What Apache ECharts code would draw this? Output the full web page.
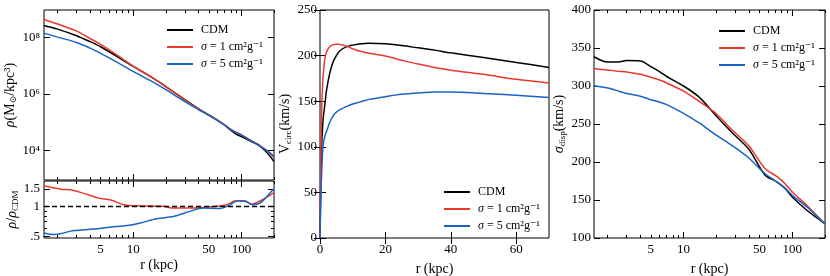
<!DOCTYPE html>
<html>
<head>
<meta charset="utf-8">
<script src="https://cdn.jsdelivr.net/npm/echarts@6/dist/echarts.min.js"></script>
<style>
html,body{margin:0;padding:0;background:#fff;}
#c{width:830px;height:276px;}
</style>
</head>
<body>
<div id="c"></div>
<script>
// ---------------- data ----------------
const seriesNames = ['CDM', 'σ = 1 cm²g⁻¹', 'σ = 5 cm²g⁻¹'];

// density profile (M_sun / kpc^3)
const rhoR   = [1.5, 2, 3, 4, 5, 7, 10, 15, 20, 30, 40, 50, 60, 70, 80, 90, 100, 120, 140, 160, 180, 200];
const rhoCDM = [2.57e8, 1.91e8, 1.12e8, 6.92e7, 4.57e7, 2.14e7, 9.33e6, 3.72e6, 1.82e6, 6.31e5, 3.02e5, 1.82e5, 1.20e5, 7.94e4, 5.25e4, 3.80e4, 3.16e4, 2.24e4, 1.66e4, 1.12e4, 7.08e3, 4.17e3];
const rhoS1  = [4.17e8, 2.88e8, 1.62e8, 8.91e7, 5.50e7, 2.40e7, 9.55e6, 3.72e6, 1.82e6, 6.03e5, 2.95e5, 1.78e5, 1.20e5, 8.13e4, 5.62e4, 4.37e4, 3.63e4, 2.40e4, 1.74e4, 1.23e4, 8.91e3, 5.75e3];
const rhoS5  = [1.38e8, 1.00e8, 6.46e7, 4.07e7, 2.69e7, 1.35e7, 6.17e6, 2.69e6, 1.41e6, 5.37e5, 2.82e5, 1.74e5, 1.15e5, 7.94e4, 5.50e4, 4.27e4, 3.63e4, 2.34e4, 1.70e4, 1.20e4, 8.91e3, 6.31e3];

// density ratio to CDM
const ratioR1 = [1.5, 2.14, 2.64, 3.5, 4.8, 6.2, 8.15, 11.6, 19, 23.5, 41, 59, 72, 89, 107, 123, 146, 195, 200];
const ratioS1 = [1.61, 1.49, 1.47, 1.35, 1.21, 1.16, 1.04, 1.01, 1.0, 0.96, 0.97, 1.0, 1.03, 1.14, 1.14, 1.05, 1.12, 1.35, 1.38];
const ratioR5 = [1.5, 1.86, 2.83, 4.3, 6.2, 8.75, 11.6, 16.5, 23.5, 33.3, 44, 63, 78, 92, 110, 127, 151, 195, 200];
const ratioS5 = [0.54, 0.52, 0.57, 0.59, 0.62, 0.64, 0.68, 0.75, 0.79, 0.89, 0.96, 0.95, 1.03, 1.14, 1.12, 1.04, 1.09, 1.46, 1.48];
const ratioRef = 1;

// circular velocity (km/s)
const vR   = [0, 0.25, 0.5, 0.8, 1, 1.5, 2, 3, 4, 5, 6, 8, 10, 12, 15, 20, 25, 30, 35, 40, 50, 60, 70];
const vCDM = [0, 60, 100, 122, 132, 147, 162, 181, 193, 200, 205, 209.5, 211.5, 212.8, 213.5, 213, 211, 208.5, 206, 203, 198, 192.5, 187];
const vS1  = [0, 85, 140, 168, 180, 197, 204, 210, 212, 212.5, 212.3, 210.5, 207.5, 205, 202.5, 199.5, 195, 190.7, 187, 184, 179.5, 174, 170];
const vS5  = [0, 45, 70, 95, 103, 112, 117, 127, 134, 138, 140.5, 144, 147, 149, 152, 155, 157.5, 159, 160, 160, 158.5, 156.5, 154];

// velocity dispersion (km/s)
const sR   = [1.5, 2, 2.5, 3, 4, 5, 6, 7, 10, 14, 20, 28, 40, 56, 72, 85, 100, 136, 170, 200];
const sCDM = [338.5, 331.5, 331.5, 333.5, 333, 325.5, 319, 312.5, 300, 285, 260.5, 238.5, 216.5, 183, 174, 166, 154, 136.5, 126, 119];
const sS1  = [323, 321, 319.5, 318.5, 315.5, 311.5, 307.8, 304, 293.3, 279.5, 263.5, 242, 221, 191.4, 181, 172, 160.6, 143, 129, 119.5];
const sS5  = [300.3, 297.3, 293.5, 290, 286.5, 282, 279, 275.5, 264, 251, 235.3, 221.5, 205, 184.8, 173.8, 166, 156.3, 140.8, 128, 118];

// ticks
const logXLabels = [5, 10, 50, 100];
const logXMajor  = [10, 100];
const logXMinor  = [2, 3, 4, 5, 6, 7, 8, 9, 20, 30, 40, 50, 60, 70, 80, 90, 200];
const rhoTicks   = [1e4, 1e6, 1e8];
const ratioTicks = [0.5, 1, 1.5];
const ratioTickLabels = ['.5', '1', '1.5'];
const ratioMinor = [0.6, 0.7, 0.8, 0.9];
const vXTicks = [0, 20, 40, 60];
const vYTicks = [0, 50, 100, 150, 200, 250];
const sYTicks = [100, 150, 200, 250, 300, 350, 400];

// ---------------- style ----------------
const FONT = "'Liberation Serif', 'DejaVu Serif', serif";
const COLORS = ['#000000', '#e8392b', '#1764c4'];
const SUP = {4: '⁴', 6: '⁶', 8: '⁸'};

const grids = [
  {left: 44, top: 10, width: 230, height: 170},
  {left: 44, top: 181, width: 230, height: 57},
  {left: 320, top: 10, width: 229, height: 228},
  {left: 594, top: 10, width: 231, height: 228}
].map(g => Object.assign(g, {show: true, borderColor: '#000', borderWidth: 1, backgroundColor: 'transparent', outerBoundsMode: 'none'}));

const nameStyle = {
  fontFamily: FONT, fontSize: 14, color: '#000', lineHeight: 16,
  rich: {
    i: {fontFamily: FONT, fontSize: 14, fontStyle: 'italic', color: '#000', lineHeight: 16},
    s: {fontFamily: FONT, fontSize: 9, color: '#000', lineHeight: 7, verticalAlign: 'bottom'}
  }
};

function mkAxis(o) {
  const a = {
    gridIndex: o.grid, type: o.type, min: o.min, max: o.max, position: o.pos,
    axisLine: {show: false}, splitLine: {show: false},
    axisTick: {show: true, inside: true, length: o.len, customValues: o.ticks, lineStyle: {color: '#000', width: 1}},
    axisLabel: o.labels ? {show: true, customValues: o.labels, formatter: o.fmt, color: '#000', fontFamily: FONT, fontSize: 13, margin: o.margin || 5} : {show: false}
  };
  if (o.name) {
    a.name = o.name; a.nameLocation = 'middle'; a.nameGap = o.nameGap; a.nameTextStyle = nameStyle;
  }
  return a;
}

const logX = {type: 'log', min: 1.5, max: 200};
const xAxes = [];
const yAxes = [];
function logXSet(grid, withLabels) {
  const base = xAxes.length;
  xAxes.push(mkAxis(Object.assign({grid, pos: 'bottom', ticks: logXMajor, len: 6,
    labels: withLabels ? logXLabels : null, fmt: v => String(v), margin: 5,
    name: withLabels ? 'r (kpc)' : null, nameGap: 16}, logX)));
  xAxes.push(mkAxis(Object.assign({grid, pos: 'bottom', ticks: logXMinor, len: 3}, logX)));
  xAxes.push(mkAxis(Object.assign({grid, pos: 'top', ticks: logXMajor, len: 6}, logX)));
  xAxes.push(mkAxis(Object.assign({grid, pos: 'top', ticks: logXMinor, len: 3}, logX)));
  return base;
}
const xRho = logXSet(0, false);
const xRatio = logXSet(1, true);
const xV = xAxes.length;
xAxes.push(mkAxis({grid: 2, type: 'value', min: 0, max: 70, pos: 'bottom', ticks: vXTicks, len: 6, labels: vXTicks, fmt: v => String(v), name: 'r (kpc)', nameGap: 16}));
xAxes.push(mkAxis({grid: 2, type: 'value', min: 0, max: 70, pos: 'top', ticks: vXTicks, len: 6}));
const xS = logXSet(3, true);

// y axes
const yRho = yAxes.length;
yAxes.push(mkAxis({grid: 0, type: 'log', min: 930, max: 9e8, pos: 'left', ticks: rhoTicks, len: 6, labels: rhoTicks,
  fmt: v => '10' + SUP[Math.round(Math.log10(v))], margin: 4, name: '{i|ρ}(M{s|⊙}/kpc³)', nameGap: 24}));
yAxes.push(mkAxis({grid: 0, type: 'log', min: 930, max: 9e8, pos: 'right', ticks: rhoTicks, len: 6}));
const yRatio = yAxes.length;
yAxes.push(mkAxis({grid: 1, type: 'log', min: 0.48, max: 1.8, pos: 'left', ticks: ratioTicks, len: 6, labels: ratioTicks,
  fmt: v => ratioTickLabels[ratioTicks.indexOf(v)], margin: 4, name: '{i|ρ}/{i|ρ}{s|CDM}', nameGap: 24}));
yAxes.push(mkAxis({grid: 1, type: 'log', min: 0.48, max: 1.8, pos: 'left', ticks: ratioMinor, len: 3}));
yAxes.push(mkAxis({grid: 1, type: 'log', min: 0.48, max: 1.8, pos: 'right', ticks: ratioTicks, len: 6}));
yAxes.push(mkAxis({grid: 1, type: 'log', min: 0.48, max: 1.8, pos: 'right', ticks: ratioMinor, len: 3}));
const yV = yAxes.length;
yAxes.push(mkAxis({grid: 2, type: 'value', min: 0, max: 250, pos: 'left', ticks: vYTicks, len: 6, labels: vYTicks, fmt: v => String(v), margin: 3, name: 'V{s|circ}(km/s)', nameGap: 25}));
yAxes.push(mkAxis({grid: 2, type: 'value', min: 0, max: 250, pos: 'right', ticks: vYTicks, len: 6}));
const yS = yAxes.length;
yAxes.push(mkAxis({grid: 3, type: 'value', min: 100, max: 400, pos: 'left', ticks: sYTicks, len: 6, labels: sYTicks, fmt: v => String(v), margin: 3, name: '{i|σ}{s|disp}(km/s)', nameGap: 22}));
yAxes.push(mkAxis({grid: 3, type: 'value', min: 100, max: 400, pos: 'right', ticks: sYTicks, len: 6}));

function pairs(xs, ys) { return xs.map((x, i) => [x, ys[i]]); }
function line(nameIdx, xi, yi, data, extra) {
  return Object.assign({
    type: 'line', name: seriesNames[nameIdx], xAxisIndex: xi, yAxisIndex: yi,
    data: data, showSymbol: false, symbol: 'none', smooth: 0.3, clip: true,
    lineStyle: {color: COLORS[nameIdx], width: 1.5}, itemStyle: {color: COLORS[nameIdx]},
    emphasis: {disabled: true}
  }, extra || {});
}

const series = [
  line(0, xRho, yRho, pairs(rhoR, rhoCDM)),
  line(1, xRho, yRho, pairs(rhoR, rhoS1)),
  line(2, xRho, yRho, pairs(rhoR, rhoS5)),
  line(1, xRatio, yRatio, pairs(ratioR1, ratioS1)),
  line(2, xRatio, yRatio, pairs(ratioR5, ratioS5), {
    markLine: {silent: true, symbol: 'none', label: {show: false}, z: 10,
      lineStyle: {color: '#000', width: 1.3, type: [5, 3]}, data: [{yAxis: ratioRef}]}
  }),
  line(0, xV, yV, pairs(vR, vCDM)),
  line(1, xV, yV, pairs(vR, vS1)),
  line(2, xV, yV, pairs(vR, vS5)),
  line(0, xS, yS, pairs(sR, sCDM)),
  line(1, xS, yS, pairs(sR, sS1)),
  line(2, xS, yS, pairs(sR, sS5))
];

function legend(left, top) {
  return {
    left: left, top: top, orient: 'vertical', icon: 'rect', itemWidth: 26, itemHeight: 2, itemGap: 5,
    selectedMode: false, data: seriesNames,
    formatter: n => n.replace('σ', '{i|σ}'),
    textStyle: {fontFamily: FONT, fontSize: 12, color: '#000', lineHeight: 12, padding: [0, 0, 0, 3],
      rich: {i: {fontFamily: FONT, fontSize: 12, fontStyle: 'italic', color: '#000'}}}
  };
}

const chart = echarts.init(document.getElementById('c'), null, {renderer: 'canvas'});
chart.setOption({
  animation: false,
  backgroundColor: '#fff',
  grid: grids,
  xAxis: xAxes,
  yAxis: yAxes,
  legend: [legend(162, 19), legend(439, 181), legend(714, 20)],
  series: series
});
</script>
</body>
</html>
